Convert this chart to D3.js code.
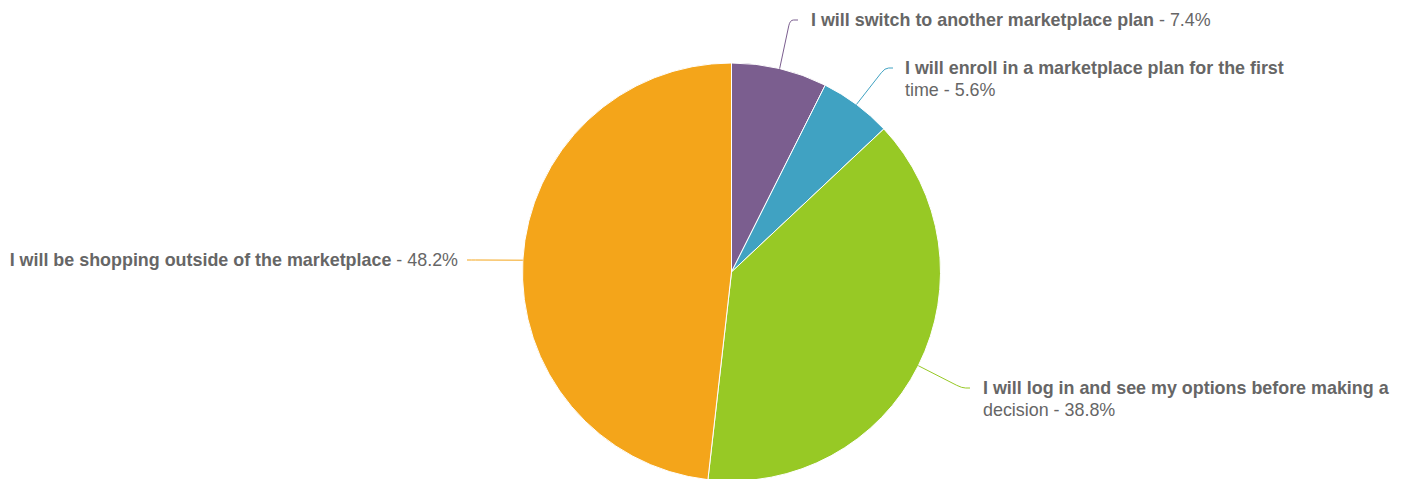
<!DOCTYPE html>
<html>
<head>
<meta charset="utf-8">
<script src="https://cdn.jsdelivr.net/npm/d3@7"></script>
<style>
  html, body { margin: 0; padding: 0; background: #fff; }
  svg { display: block; }
  text { font-family: "Liberation Sans", Arial, Helvetica, sans-serif; }
</style>
</head>
<body>
<svg id="chart" width="1404" height="479"></svg>
<script>
// ---- data ----
const categories = [
  "I will switch to another marketplace plan",
  "I will enroll in a marketplace plan for the first time",
  "I will log in and see my options before making a decision",
  "I will be shopping outside of the marketplace"
];
const values = [7.4, 5.6, 38.8, 48.2];
const colors = ["#7b5e8f", "#40a2c2", "#97c925", "#f4a51a"];

// ---- layout ----
const W = 1404, H = 479;
const cx = 731.5, cy = 272, R = 209;
const fontSize = 17.9;
const lineH = 22;
// label anchor: text x, first line centre y, side, knee x, max width
const labelLayout = [
  { tx: 811, ty: 20, side: 1, kx: 798, maxW: 9999 },
  { tx: 905, ty: 68, side: 1, kx: 893, maxW: 395 },
  { tx: 983, ty: 388, side: 1, kx: 970, maxW: 415 },
  { tx: 458, ty: 260, side: -1, kx: 467, maxW: 9999 }
];

const svg = d3.select("#chart");
const g = svg.append("g").attr("transform", `translate(${cx},${cy})`);

const data = categories.map((c, i) => ({ name: c, value: values[i], color: colors[i], i }));
const pie = d3.pie().sort(null).value(d => d.value);
const arcs = pie(data);
const arc = d3.arc().innerRadius(0).outerRadius(R);

g.selectAll("path.slice").data(arcs).join("path")
  .attr("class", "slice")
  .attr("d", arc)
  .attr("fill", d => d.data.color)
  .attr("stroke", "#ffffff")
  .attr("stroke-width", 1)
  .attr("stroke-linejoin", "round");

// connectors
const conn = svg.append("g");
arcs.forEach((a, i) => {
  const L = labelLayout[i];
  const mid = (a.startAngle + a.endAngle) / 2;
  const sx = cx + R * Math.sin(mid), sy = cy - R * Math.cos(mid);
  const ey = L.ty;
  const ex = L.kx;
  const bx = ex - L.side * 8;
  const p = d3.path();
  p.moveTo(sx, sy);
  const dx = bx - sx, dy = ey - sy;
  const len = Math.hypot(dx, dy);
  const r = Math.min(6, len);
  const px = bx - dx / len * r, py = ey - dy / len * r;
  p.lineTo(px, py);
  p.quadraticCurveTo(bx, ey, bx + L.side * r * 0.6, ey);
  p.lineTo(ex, ey);
  conn.append("path").attr("d", p.toString())
    .attr("fill", "none").attr("stroke", a.data.color).attr("stroke-width", 1);
});

// labels with wrapping (first line bold for name part)
const measure = svg.append("text").attr("font-size", fontSize).attr("visibility", "hidden");
function width(str, bold) {
  measure.attr("font-weight", bold ? "bold" : "normal").text(str);
  return measure.node().getComputedTextLength();
}
arcs.forEach((a, i) => {
  const L = labelLayout[i];
  const pct = a.data.value.toFixed(1) + "%";
  const words = (a.data.name + " - " + pct).split(" ");
  const nameWordCount = a.data.name.split(" ").length;
  const lines = [];
  let cur = [], curStart = 0;
  words.forEach((w, wi) => {
    const trial = cur.concat([w]).join(" ");
    if (cur.length && width(trial, lines.length === 0) > L.maxW) {
      lines.push({ words: cur, start: curStart });
      cur = [w]; curStart = wi;
    } else cur.push(w);
  });
  lines.push({ words: cur, start: curStart });

  const t = svg.append("text")
    .attr("font-size", fontSize)
    .attr("fill", "#666666")
    .attr("text-anchor", L.side > 0 ? "start" : "end");
  lines.forEach((ln, li) => {
    const y = L.ty + li * lineH;
    if (li === 0) {
      const boldWords = ln.words.slice(0, Math.max(0, nameWordCount - ln.start));
      const restWords = ln.words.slice(boldWords.length);
      t.append("tspan").attr("x", L.tx).attr("y", y).attr("dy", "0.35em")
        .attr("font-weight", "bold").text(boldWords.join(" "));
      if (restWords.length)
        t.append("tspan").attr("font-weight", "normal").text(" " + restWords.join(" "));
    } else {
      t.append("tspan").attr("x", L.tx).attr("y", y).attr("dy", "0.35em")
        .attr("font-weight", "normal").text(ln.words.join(" "));
    }
  });
});
measure.remove();
</script>
</body>
</html>
